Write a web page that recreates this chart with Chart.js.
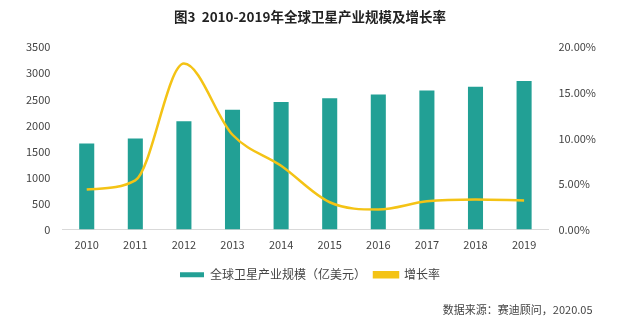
<!DOCTYPE html>
<html>
<head>
<meta charset="utf-8">
<script src="https://cdn.jsdelivr.net/npm/chart.js@4"></script>
<style>
html,body{margin:0;padding:0;background:#fff;}
#wrap{width:630px;height:334px;position:relative;}
</style>
</head>
<body>
<div id="wrap"><canvas id="c" width="630" height="334"></canvas></div>
<script>
const years = ['2010','2011','2012','2013','2014','2015','2016','2017','2018','2019'];
const scale = [1650, 1750, 2080, 2300, 2450, 2520, 2590, 2670, 2740, 2850];
const growth = [4.4, 5.4, 18.2, 10.4, 7.0, 3.0, 2.2, 3.1, 3.3, 3.2];
const leftTicks = [0, 500, 1000, 1500, 2000, 2500, 3000, 3500];
const rightTicks = [0, 5, 10, 15, 20];

const FONT = '"Noto Sans CJK SC", "Open Sans", sans-serif';
const TEAL = '#22A095';
const GOLD = '#F4C315';

new Chart(document.getElementById('c'), {
  data: {
    labels: years,
    datasets: [
      {
        type: 'line',
        label: '增长率',
        data: growth,
        yAxisID: 'y1',
        borderColor: GOLD,
        backgroundColor: GOLD,
        borderWidth: 2.5,
        pointRadius: 0,
        cubicInterpolationMode: 'monotone',
        order: 0
      },
      {
        type: 'bar',
        label: '全球卫星产业规模（亿美元）',
        data: scale,
        yAxisID: 'y',
        backgroundColor: TEAL,
        barPercentage: 0.62,
        categoryPercentage: 0.5,
        order: 1
      }
    ]
  },
  options: {
    responsive: false,
    animation: false,
    layout: { padding: { left: 14, right: 24, top: 4, bottom: 2 } },
    plugins: {
      title: {
        display: true,
        text: '图3  2010-2019年全球卫星产业规模及增长率',
        color: '#222',
        font: { family: FONT, size: 13.5, weight: 'bold' },
        padding: { top: 5, bottom: 22 }
      },
      subtitle: {
        display: true,
        position: 'bottom',
        align: 'end',
        text: '数据来源：赛迪顾问，2020.05\u3000 ',
        color: '#444',
        font: { family: FONT, size: 11 },
        padding: { top: 12, bottom: 16 }
      },
      legend: {
        position: 'bottom',
        reverse: true,
        labels: {
          boxWidth: 24,
          boxHeight: 5,
          padding: 8,
          color: '#444',
          font: { family: FONT, size: 12 }
        }
      },
      tooltip: { enabled: false }
    },
    scales: {
      x: {
        grid: { display: false, drawTicks: false },
        border: { display: true, color: '#d9d9d9' },
        ticks: { color: '#444', font: { family: FONT, size: 11 }, padding: 9 }
      },
      y: {
        position: 'left',
        min: 0, max: 3500,
        afterBuildTicks: ax => { ax.ticks = leftTicks.map(v => ({ value: v })); },
        grid: { display: false, drawTicks: false },
        border: { display: false },
        ticks: { color: '#444', font: { family: FONT, size: 11 }, padding: 12, callback: v => String(v) }
      },
      y1: {
        position: 'right',
        min: 0, max: 20,
        afterBuildTicks: ax => { ax.ticks = rightTicks.map(v => ({ value: v })); },
        grid: { display: false, drawTicks: false },
        border: { display: false },
        ticks: {
          color: '#444', font: { family: FONT, size: 11 }, padding: 10,
          callback: v => v.toFixed(2) + '%'
        }
      }
    }
  }
});
</script>
</body>
</html>
